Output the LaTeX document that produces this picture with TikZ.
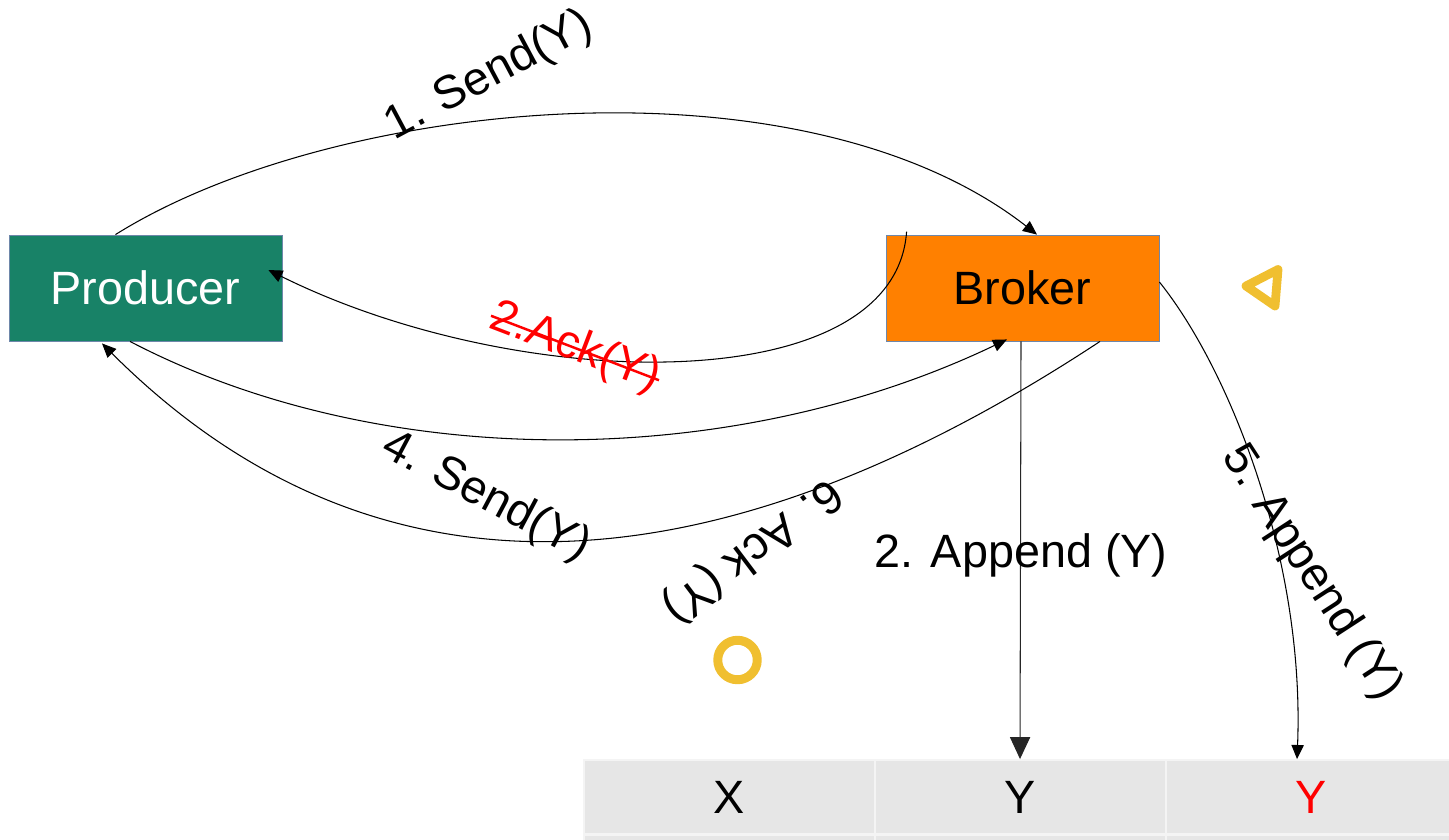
\documentclass[tikz,border=0pt]{standalone}
\usepackage{fontspec}
\setmainfont{Liberation Sans}
\usetikzlibrary{arrows.meta,calc}
\definecolor{prodgreen}{RGB}{24,130,103}
\definecolor{brokerorange}{RGB}{255,128,0}
\definecolor{boxedge}{RGB}{110,135,170}
\definecolor{markyellow}{RGB}{240,191,48}
\definecolor{cellgray}{RGB}{230,230,230}
\definecolor{celledge}{RGB}{244,244,244}
\begin{document}
\begin{tikzpicture}[x=0.02cm,y=-0.02cm,
  font=\fontsize{26.6}{32}\selectfont,
  actor/.style={rectangle, draw=boxedge, line width=0.5pt, inner sep=0pt,
    minimum width=5.46cm, minimum height=2.12cm},
  cell/.style={rectangle, fill=cellgray, draw=celledge, line width=1.1pt,
    inner sep=0pt, minimum width=5.82cm, minimum height=1.48cm},
  conn/.style={line width=0.6pt, -{Triangle[length=8pt,width=7pt]}},
  bigconn/.style={line width=0.6pt, draw=black!85, -{Triangle[length=12.5pt,width=11.5pt]}},
  lbl/.style={inner sep=0pt},
  deco/.style={draw=markyellow, line join=round}]
\useasboundingbox (0,0) rectangle (1449,839);

% log segment cells
\node[cell] (cx) at (729,797) {X};
\node[cell] (cy) at (1020.5,797) {Y};
\node[cell, text=red] (cz) at (1311.5,797) {Y};
\node[cell] (dx) at (729,872) {};
\node[cell] (dy) at (1020.5,872) {};
\node[cell] (dz) at (1311.5,872) {};

% actors
\node[actor, fill=prodgreen, text=white] (producer) at (145.5,288) {Producer};
\node[actor, fill=brokerorange] (broker) at (1022.5,288) {Broker};

% 1. send
\draw[conn] ($(producer.north)+(-30,0)$) .. controls (330,100) and (800,50) .. ($(broker.north)+(14.5,0)$);
\node[lbl, rotate=28] (l1) at (489,76) {1. Send(Y)};

% 2. lost ack
\draw[conn] ($(broker.north west)+(21,-3)$) .. controls (895,400) and (520,395) .. ($(producer.east)+(-14,-18)$);
\node[lbl, text=red, rotate=-21] (l2) at (575,348) {2.Ack(Y)};
\draw[red, line width=1.4pt] (l2.west) -- (l2.east);

% 2. append
\draw[bigconn] ($(broker.south)+(-1.5,0)$) -- ($(cy.north)+(-0.5,0)$);
\node[lbl] (l3) at (1021,555) {2. Append (Y)};

% 4. resend
\draw[conn] ($(producer.south)+(-15.5,0)$) .. controls (380,472) and (730,472) .. ($(broker.south)+(-15.5,-2)$);
\node[lbl, rotate=-28] (l4) at (486,497) {4. Send(Y)};

% 5. append again
\draw[conn] ($(broker.east)+(0,-6)$) .. controls (1230,370) and (1305,560) .. ($(cz.north)+(-14.5,0)$);
\node[lbl, rotate=-57] (l5) at (1311,573) {5. Append (Y)};

% 6. ack
\draw[conn] ($(broker.south)+(77.5,0)$) .. controls (800,539) and (424,665) .. ($(producer.south)+(-43.5,2)$);
\node[lbl, rotate=217] (l6) at (752,550) {6. Ack (Y)};

% markers
\draw[deco, line width=5pt] (1246,286) -- (1278,269.5) -- (1275,306) -- cycle;
\draw[deco, line width=5.1pt] (737.5,660) circle[radius=0.395cm];
\end{tikzpicture}
\end{document}
